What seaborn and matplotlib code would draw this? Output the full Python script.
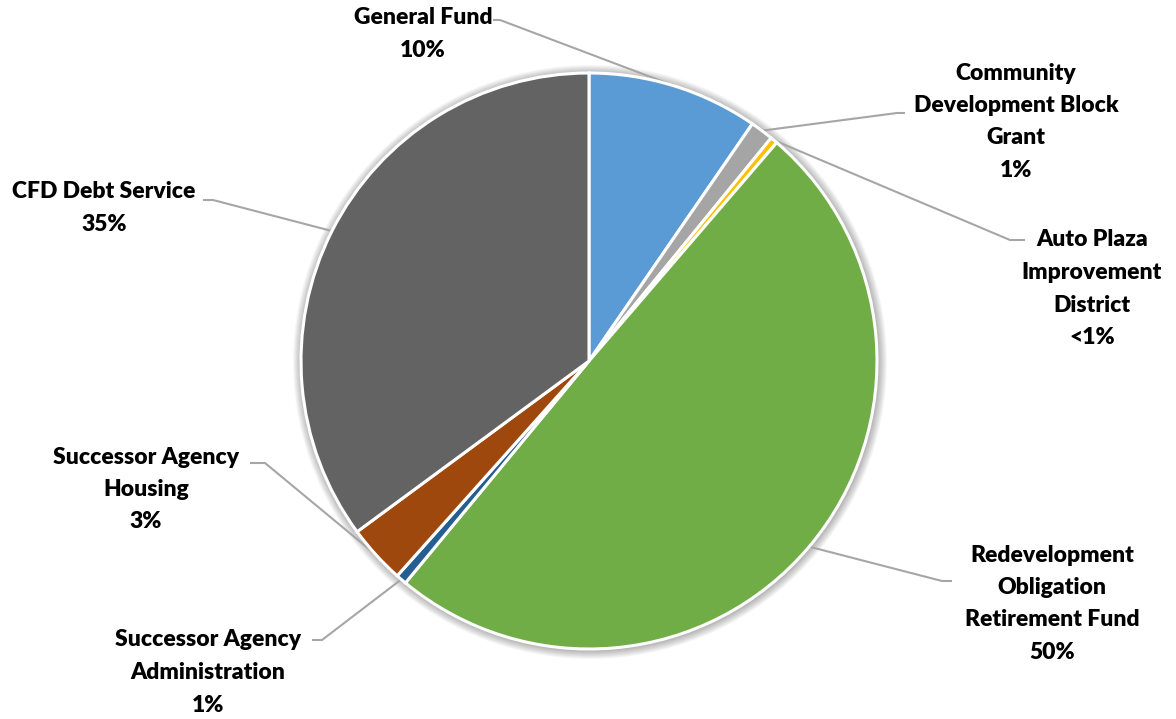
import matplotlib
matplotlib.use("Agg")
import matplotlib.pyplot as plt
from matplotlib.patches import Circle
import numpy as np
import seaborn as sns

# Fund shares (percent of total)
categories = [
    "General Fund",
    "Community\nDevelopment Block\nGrant",
    "Auto Plaza\nImprovement\nDistrict",
    "Redevelopment\nObligation\nRetirement Fund",
    "Successor Agency\nAdministration",
    "Successor Agency\nHousing",
    "CFD Debt Service",
]
shares = [9.6, 1.3, 0.4, 49.7, 0.6, 3.3, 35.1]
colors = ["#5B9BD5", "#A5A5A5", "#FFC000", "#70AD47", "#255E91", "#9E480E", "#636363"]

# Label placement (pixel coords from top-left): text centre x, first line y, leader elbow
label_x = [423, 1016, 1092, 1052, 208, 146, 104]
label_y = [18, 73, 240, 555, 640, 457, 192]
elbow_x = [500, 897, 1010, 942, 322, 265, 213]
elbow_end = [493, 905, 1025, 952, 312, 250, 203]
elbow_y = [20, 113, 240, 581, 640, 463, 200]

W, H = 1176, 719
CX, CY, R = 589, 361, 288
LINE = 32.5

sns.set_theme(style="white")
plt.rcParams["font.family"] = ["Lato", "DejaVu Sans"]

fig = plt.figure(figsize=(W / 100, H / 100), dpi=100)
ax = fig.add_axes([0, 0, 1, 1])

def fy(y):
    return H - y

# soft glow behind the pie
for i in range(1, 11):
    ax.add_patch(Circle((CX + 1, fy(CY) - 1), R + i * 0.9, color="black",
                        alpha=0.03, lw=0, zorder=0))

wedges, _ = ax.pie(shares, colors=colors, startangle=90, counterclock=False,
                   center=(CX, fy(CY)), radius=R,
                   wedgeprops=dict(edgecolor="white", linewidth=2.2),
                   frame=True)
for w in wedges:
    w.set_zorder(2)

def pct_text(v):
    r = round(v)
    return "<1%" if r < 1 else f"{r:d}%"

for i, (w, name, v) in enumerate(zip(wedges, categories, shares)):
    mid = np.deg2rad((w.theta1 + w.theta2) / 2)
    ax_pt = (CX + R * np.cos(mid), fy(CY) + R * np.sin(mid))
    ax.plot([ax_pt[0], elbow_x[i], elbow_end[i]],
            [ax_pt[1], fy(elbow_y[i]), fy(elbow_y[i])],
            color="#A6A6A6", lw=1.5, zorder=1, solid_capstyle="butt")
    lines = name.split("\n") + [pct_text(v)]
    for k, t in enumerate(lines):
        ax.text(label_x[i], fy(label_y[i] + k * LINE), t, ha="center", va="center",
                fontsize=16.5, fontweight="heavy", color="black", zorder=3)

ax.set_xlim(0, W)
ax.set_ylim(0, H)
ax.set_aspect("equal")
ax.axis("off")

fig.savefig("out.png", dpi=100, facecolor="white")
